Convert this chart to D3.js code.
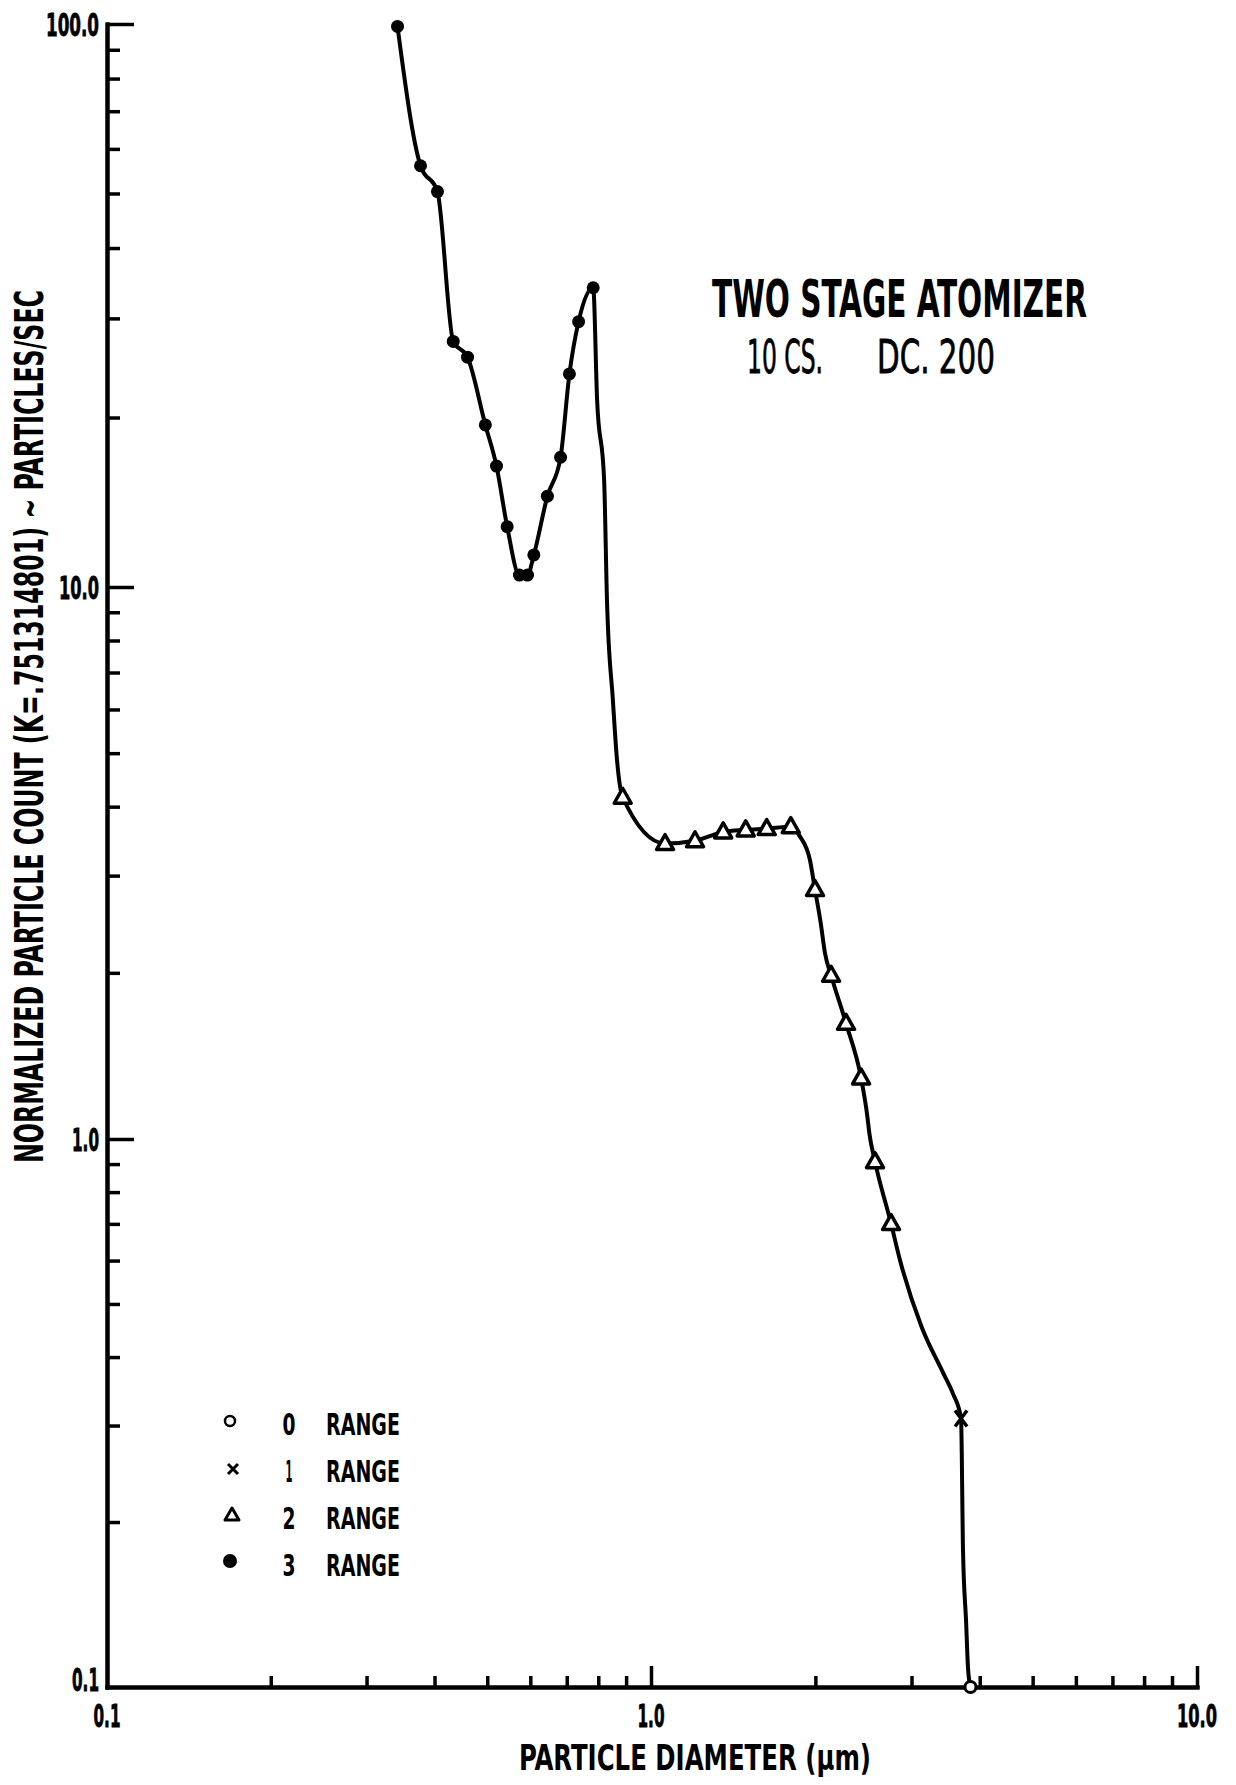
<!DOCTYPE html>
<html>
<head>
<meta charset="utf-8">
<script src="https://cdn.jsdelivr.net/npm/d3@7"></script>
<style>
  body { margin: 0; background: #fff; }
  svg text { font-family: "DejaVu Sans Condensed", "DejaVu Sans", sans-serif; fill: #000; }
</style>
</head>
<body>
<div id="chart"></div>
<script>
// particle diameter (um) / normalized count

// 3 range - filled circles
const range3D = [0.342, 0.377, 0.405, 0.433, 0.460, 0.496, 0.520, 0.544, 0.573, 0.593, 0.609, 0.645, 0.682, 0.708, 0.736, 0.783];
const range3N = [99, 56.0, 50.4, 27.3, 25.6, 19.4, 16.4, 12.8, 10.5, 10.5, 11.4, 14.5, 17.0, 23.9, 29.6, 34.0];

// 2 range - open triangles
const range2D = [0.887, 1.061, 1.204, 1.356, 1.491, 1.629, 1.803, 1.997, 2.137, 2.276, 2.425, 2.572, 2.752];
const range2N = [4.16, 3.43, 3.47, 3.60, 3.63, 3.65, 3.68, 2.83, 1.98, 1.62, 1.29, 0.909, 0.701];

// 1 range - cross
const range1D = [3.697];
const range1N = [0.309];

// 0 range - open circle
const range0D = [3.847];
const range0N = [0.1];

// the hand drawn curve, traced through the markers and its bends
const curveD = [0.342, 0.377, 0.405, 0.433, 0.460, 0.496, 0.520, 0.544, 0.573, 0.593, 0.609, 0.645, 0.682, 0.708, 0.736, 0.783,
  0.796, 0.820, 0.830, 0.851, 0.866,
  0.887, 1.061, 1.204, 1.356, 1.491, 1.629, 1.803, 1.875, 1.955, 1.997, 2.046, 2.083, 2.137, 2.276, 2.425, 2.490, 2.511, 2.572, 2.752,
  2.858, 3.131, 3.43, 3.573, 3.697, 3.728, 3.776, 3.808, 3.847];
const curveN = [99, 56.0, 50.4, 27.3, 25.6, 19.4, 16.4, 12.8, 10.5, 10.5, 11.4, 14.5, 17.0, 23.9, 29.6, 34.0,
  21.5, 15.5, 9.47, 6.24, 4.86,
  4.16, 3.43, 3.47, 3.60, 3.63, 3.65, 3.68, 3.53, 3.20, 2.83, 2.46, 2.17, 1.98, 1.62, 1.29, 1.10, 1.025, 0.909, 0.701,
  0.601, 0.454, 0.374, 0.343, 0.309, 0.177, 0.132, 0.108, 0.1];

// ticks
const yMajor = [1, 10, 100];
const yLabels = [0.1, 1, 10, 100];
const xLabels = [0.1, 1, 10];
const decadesY = [0.1, 1, 10];
const decadesX = [0.1, 1];
const legendRanges = ["0", "1", "2", "3"];

const width = 1236, height = 1785;

const svg = d3.select("#chart").append("svg")
  .attr("width", width)
  .attr("height", height)
  .style("background", "#fff");

// the paper axes are not quite evenly ruled, so pin each decade
const x = d3.scaleLog().domain([0.1, 1, 10]).range([107, 651, 1197]);
const y = d3.scaleLog().domain([0.1, 1, 10, 100]).range([1687, 1139, 587, 24]);

const yMinor = decadesY.flatMap(d => d3.range(2, 10).map(k => k * d));
const xMinor = decadesX.flatMap(d => d3.range(2, 10).map(k => k * d));
const fmt = d3.format(".1f");

// rough width of the narrow lettering on the scan
function labelWidth(s) {
  let w = 0;
  for (const c of s) w += c === "1" ? 8 : c === "." ? 6 : 13;
  return w;
}

// y axis
const yAxisG = svg.append("g").attr("transform", "translate(" + x(0.1) + ",0)");
yAxisG.append("g")
  .call(d3.axisRight(y).tickValues(yMinor).tickSize(13).tickSizeOuter(0).tickFormat(""));
yAxisG.append("g")
  .call(d3.axisRight(y).tickValues(yMajor).tickSize(27).tickSizeOuter(0).tickFormat(""));
yAxisG.selectAll(".domain").attr("stroke-width", 4).attr("stroke-linecap", "square");
yAxisG.selectAll(".tick line").attr("stroke-width", 3.5);

yAxisG.append("g")
  .call(d3.axisLeft(y).tickValues(yLabels).tickSize(0).tickPadding(8).tickFormat(fmt))
  .call(g => g.select(".domain").remove())
  .selectAll("text")
  .attr("font-size", 32)
  .attr("font-weight", "bold")
  .attr("stroke", "#000")
  .attr("stroke-width", 0.8)
  .attr("dy", d => d === 0.1 ? "0.1em" : "0.35em")
  .attr("textLength", d => labelWidth(fmt(d)))
  .attr("lengthAdjust", "spacingAndGlyphs");

// x axis
const xAxisG = svg.append("g").attr("transform", "translate(0," + y(0.1) + ")");
xAxisG.append("g")
  .call(d3.axisTop(x).tickValues(xMinor).tickSize(11).tickSizeOuter(0).tickFormat(""));
xAxisG.append("g")
  .call(d3.axisTop(x).tickValues([1, 10]).tickSize(21).tickSizeOuter(0).tickFormat(""));
xAxisG.selectAll(".domain").attr("stroke-width", 4).attr("stroke-linecap", "square");
xAxisG.selectAll(".tick line").attr("stroke-width", 3.5);

svg.append("g").selectAll("text")
  .data(xLabels)
  .join("text")
  .attr("x", d => x(d))
  .attr("y", 1727)
  .attr("text-anchor", "middle")
  .attr("font-size", 32)
  .attr("font-weight", "bold")
  .attr("stroke", "#000")
  .attr("stroke-width", 0.8)
  .attr("textLength", d => labelWidth(fmt(d)))
  .attr("lengthAdjust", "spacingAndGlyphs")
  .text(d => fmt(d));

// axis titles
svg.append("text")
  .attr("x", 519)
  .attr("y", 1770)
  .attr("font-size", 36)
  .attr("font-weight", "bold")
  .attr("textLength", 352)
  .attr("lengthAdjust", "spacingAndGlyphs")
  .text("PARTICLE  DIAMETER (μm)");

svg.append("text")
  .attr("transform", "translate(43,1163) rotate(-90)")
  .attr("font-size", 39)
  .attr("font-weight", "bold")
  .attr("textLength", 873)
  .attr("lengthAdjust", "spacingAndGlyphs")
  .text("NORMALIZED PARTICLE COUNT (K=.751314801) ~ PARTICLES/SEC");

// title block
svg.append("text")
  .attr("x", 712)
  .attr("y", 317)
  .attr("font-size", 52)
  .attr("font-weight", "bold")
  .attr("textLength", 375)
  .attr("lengthAdjust", "spacingAndGlyphs")
  .text("TWO STAGE ATOMIZER");

svg.append("text")
  .attr("x", 747)
  .attr("y", 373)
  .attr("font-size", 47)
  .attr("stroke", "#000")
  .attr("stroke-width", 0.8)
  .attr("textLength", 76)
  .attr("lengthAdjust", "spacingAndGlyphs")
  .text("10 CS.");

svg.append("text")
  .attr("x", 877)
  .attr("y", 373)
  .attr("font-size", 47)
  .attr("stroke", "#000")
  .attr("stroke-width", 0.8)
  .attr("textLength", 118)
  .attr("lengthAdjust", "spacingAndGlyphs")
  .text("DC. 200");

// the curve
const line = d3.line()
  .x(d => x(d[0]))
  .y(d => y(d[1]))
  .curve(d3.curveMonotoneX);

svg.append("path")
  .datum(d3.zip(curveD, curveN))
  .attr("d", line)
  .attr("fill", "none")
  .attr("stroke", "#000")
  .attr("stroke-width", 4)
  .attr("stroke-linejoin", "round")
  .attr("stroke-linecap", "round");

// markers
const triPath = "M0,-9L8.5,6L-8.5,6Z";
const crossPath = "M-6,-8L6,8M6,-8L-6,8";

svg.append("g").selectAll("circle")
  .data(d3.zip(range3D, range3N))
  .join("circle")
  .attr("cx", d => x(d[0]))
  .attr("cy", d => y(d[1]))
  .attr("r", 6.5)
  .attr("fill", "#000");

svg.append("g").selectAll("path")
  .data(d3.zip(range2D, range2N))
  .join("path")
  .attr("transform", d => "translate(" + x(d[0]) + "," + y(d[1]) + ")")
  .attr("d", triPath)
  .attr("fill", "#fff")
  .attr("stroke", "#000")
  .attr("stroke-width", 3.5)
  .attr("stroke-linejoin", "round");

svg.append("g").selectAll("path")
  .data(d3.zip(range1D, range1N))
  .join("path")
  .attr("transform", d => "translate(" + x(d[0]) + "," + y(d[1]) + ")")
  .attr("d", crossPath)
  .attr("stroke", "#000")
  .attr("stroke-width", 3.5);

svg.append("g").selectAll("circle")
  .data(d3.zip(range0D, range0N))
  .join("circle")
  .attr("cx", d => x(d[0]))
  .attr("cy", d => y(d[1]))
  .attr("r", 5.5)
  .attr("fill", "#fff")
  .attr("stroke", "#000")
  .attr("stroke-width", 3);

// legend
const legendY = d3.scalePoint().domain(legendRanges).range([1435, 1576]);
const legend = svg.append("g");
const rows = legend.selectAll("g")
  .data(legendRanges)
  .join("g")
  .attr("transform", d => "translate(0," + legendY(d) + ")");

rows.each(function(d) {
  const g = d3.select(this);
  if (d === "0") {
    g.append("circle").attr("cx", 230).attr("cy", -14).attr("r", 5)
      .attr("fill", "#fff").attr("stroke", "#000").attr("stroke-width", 2.5);
  } else if (d === "1") {
    g.append("path").attr("transform", "translate(233,-13)")
      .attr("d", "M-5,-5L5,5M5,-5L-5,5").attr("stroke", "#000").attr("stroke-width", 3);
  } else if (d === "2") {
    g.append("path").attr("transform", "translate(232,-14)")
      .attr("d", "M0,-7L7,5L-7,5Z").attr("fill", "#fff").attr("stroke", "#000")
      .attr("stroke-width", 3).attr("stroke-linejoin", "round");
  } else {
    g.append("circle").attr("cx", 230).attr("cy", -15).attr("r", 7).attr("fill", "#000");
  }
});

rows.append("text")
  .attr("x", 289)
  .attr("text-anchor", "middle")
  .attr("font-size", 31)
  .attr("font-weight", "bold")
  .attr("textLength", d => d === "1" ? 7 : 13)
  .attr("lengthAdjust", "spacingAndGlyphs")
  .text(d => d);

rows.append("text")
  .attr("x", 326)
  .attr("font-size", 31)
  .attr("font-weight", "bold")
  .attr("textLength", 74)
  .attr("lengthAdjust", "spacingAndGlyphs")
  .text("RANGE");
</script>
</body>
</html>
